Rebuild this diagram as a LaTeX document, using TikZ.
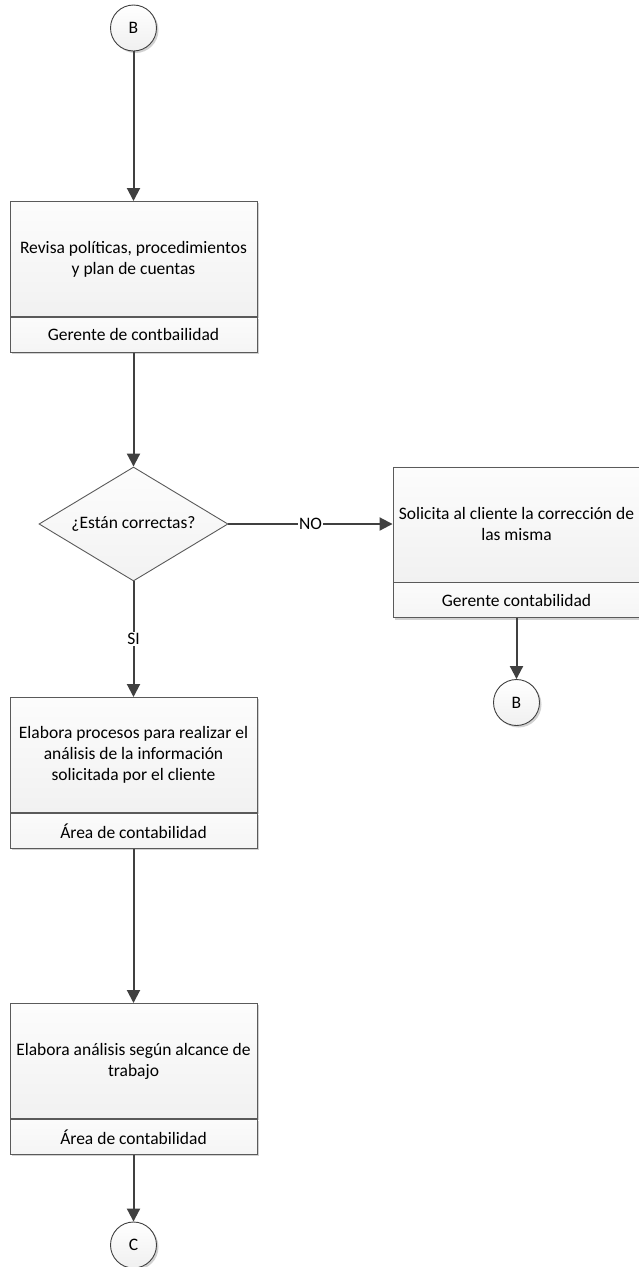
\documentclass[tikz,border=0pt]{standalone}
\usepackage{fontspec}
\setmainfont{Carlito}
\usetikzlibrary{arrows.meta,shapes.geometric,shadows}
\definecolor{linec}{HTML}{404040}
\definecolor{edgec}{HTML}{5A5A5A}
\definecolor{txt}{HTML}{000000}

\tikzset{
  flow/.style={draw=linec, line width=2pt, -{Triangle[length=13pt,width=13pt]}},
  softshadow/.style={drop shadow={shadow xshift=2pt, shadow yshift=-2pt, fill=black, opacity=0.18}},
  body/.style={draw=edgec, line width=0.9pt, top color=gray!2, bottom color=gray!11,
    minimum width=247pt, minimum height=115pt, align=center, text=txt,
    inner sep=0pt, anchor=north, softshadow},
  foot/.style={draw=edgec, line width=0.9pt, top color=gray!3, bottom color=gray!8,
    minimum width=247pt, minimum height=35pt, text=txt, inner sep=0pt,
    anchor=north, softshadow},
  conn/.style={circle, draw=linec, line width=0.9pt, top color=white, bottom color=gray!12,
    minimum size=46pt, inner sep=0pt, text=txt, softshadow},
  decision/.style={diamond, draw=edgec, line width=0.9pt, top color=gray!2, bottom color=gray!10,
    minimum width=189pt, minimum height=114pt, inner sep=0pt},
  lbl/.style={fill=white, inner sep=1pt, text=txt},
}

\begin{document}
\begin{tikzpicture}[x=1pt, y=-1pt, font=\fontsize{17.5}{21}\selectfont]
\useasboundingbox (0,0) rectangle (639,1267);

% left column
\node[conn] (b1) at (133.5,28) {B};
\node[body] (p1) at (133.5,201) {Revisa políticas, procedimientos\\y plan de cuentas};
\node[foot] (f1) at (p1.south) {Gerente de contbailidad};

\node[decision] (d1) at (133.5,524) {};
\node[text=txt] (dq) at (d1.center) {¿Están correctas?};

\node[body] (p3) at (133.5,697) {Elabora procesos para realizar el\\análisis de la información\\solicitada por el cliente};
\node[foot] (f3) at (p3.south) {Área de contabilidad};

\node[body] (p4) at (133.5,1003) {Elabora análisis según alcance de\\trabajo};
\node[foot] (f4) at (p4.south) {Área de contabilidad};

\node[conn] (c1) at (133.5,1245) {C};

% right column
\node[body] (p2) at (516.5,466.5) {Solicita al cliente la corrección de\\las misma};
\node[foot] (f2) at (p2.south) {Gerente contabilidad};
\node[conn] (b2) at (516.5,702.5) {B};

% connectors
\draw[flow] (b1) -- (p1);
\draw[flow] (f1) -- (d1);
\draw[flow] (d1.east) -- node[lbl] {NO} (d1.east -| p2.west);
\draw[flow] (d1) -- node[lbl] {SI} (p3);
\draw[flow] (f2) -- (b2);
\draw[flow] (f3) -- (p4);
\draw[flow] (f4) -- (c1);
\end{tikzpicture}
\end{document}
